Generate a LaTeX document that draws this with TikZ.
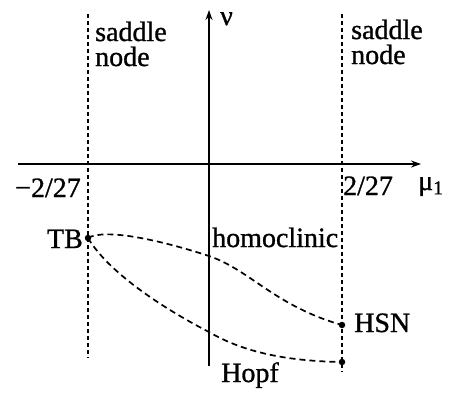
\documentclass[tikz,border=0pt]{standalone}
\usepackage{fontspec}
\setmainfont[FakeBold=1]{Liberation Serif}
\usetikzlibrary{arrows.meta}

\begin{document}
\begin{tikzpicture}[x=1pt,y=1pt,
  lbl/.style={font=\fontsize{28}{25}\selectfont, inner sep=0pt},
  dot/.style={circle, fill=black, inner sep=0pt, minimum size=6.5pt},
  axis/.style={line width=2pt, -{Stealth[length=10pt,width=7pt]}},
  bound/.style={line width=1.8pt, dash pattern=on 4pt off 3pt},
  branch/.style={line width=1.7pt, dash pattern=on 6pt off 4pt}
]
  \useasboundingbox (0,0) rectangle (449,-399);

  % axes
  \coordinate (muL) at (18,-164);
  \coordinate (muR) at (421,-164);
  \coordinate (nuB) at (209,-366);
  \coordinate (nuT) at (209,-10);
  \draw[axis] (muL) -- (muR);
  \draw[axis] (nuB) -- (nuT);
  \node[lbl, anchor=base west] (mu) at (418,-190) {μ\textsubscript{1}};
  \node[lbl, anchor=base west] (nu) at (220,-25) {ν};

  % saddle node lines
  \coordinate (snLT) at (88,-14);
  \coordinate (snLB) at (88,-358);
  \coordinate (snRT) at (342,-14);
  \coordinate (snRB) at (342,-372);
  \draw[bound] (snLT) -- (snLB);
  \draw[bound] (snRT) -- (snRB);
  \node[lbl, anchor=base west, align=left] (snL) at (95,-66) {saddle\\node};
  \node[lbl, anchor=base west, align=left] (snR) at (351,-64) {saddle\\node};
  \node[lbl, anchor=base east] (xL) at (81,-197) {−2/27};
  \node[lbl, anchor=base west] (xR) at (343,-195) {2/27};

  % codimension-two points
  \node[dot] (TB) at (88,-238) {};
  \node[dot] (HSN) at (342,-325) {};
  \node[dot] (H0) at (342,-362) {};
  \node[lbl, anchor=base east] at (83,-248) {TB};
  \node[lbl, anchor=base west] at (354,-332) {HSN};

  % bifurcation curves
  \draw[branch] (TB.center) .. controls (105,-228) and (160,-240) .. (209,-256)
    .. controls (250,-270) and (275,-306) .. (HSN.center);
  \draw[branch] (TB.center) .. controls (110,-275) and (170,-312) .. (209,-332)
    .. controls (240,-350) and (280,-361) .. (H0.center);
  \node[lbl, anchor=base west] (homo) at (212,-247) {homoclinic};
  \node[lbl, anchor=base] (hopf) at (250,-382) {Hopf};
\end{tikzpicture}
\end{document}
